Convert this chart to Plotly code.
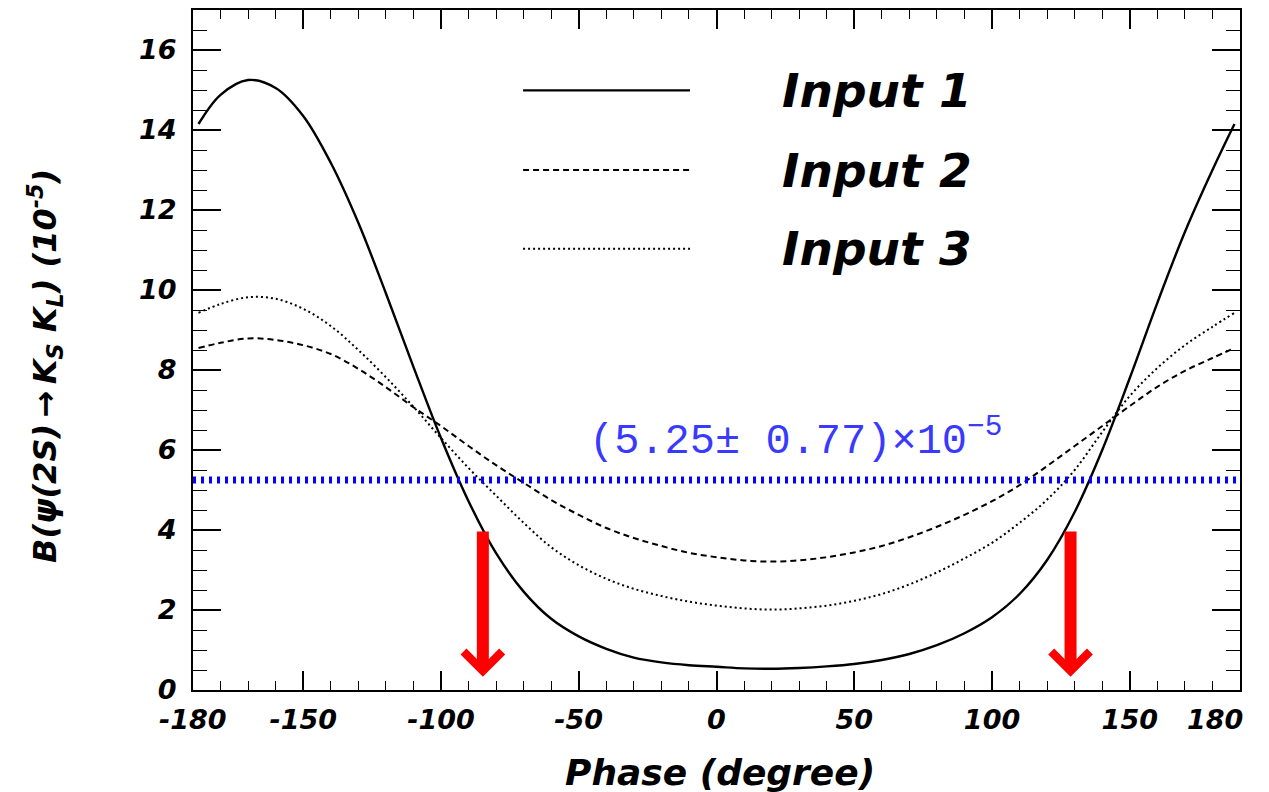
import plotly.graph_objects as go

# ---------------- data ----------------
phase = [-188, -180, -170, -160, -150, -140, -130, -120, -110, -100, -90, -80, -70,
         -60, -50, -40, -30, -20, -10, 0, 10, 20, 30, 40, 50, 60, 70, 80, 90, 100,
         110, 120, 130, 140, 150, 160, 170, 180, 188]

input1 = [14.15, 14.88, 15.25, 15.05, 14.35, 13.18, 11.68, 9.92, 8.08, 6.30, 4.72, 3.42, 2.46,
          1.78, 1.34, 1.03, 0.81, 0.69, 0.62, 0.58, 0.54, 0.53, 0.55, 0.59, 0.65, 0.75, 0.90,
          1.12, 1.42, 1.82, 2.40, 3.25, 4.45, 6.00, 7.80, 9.68, 11.45, 13.00, 14.15]

input2 = [8.55, 8.68, 8.79, 8.75, 8.62, 8.40, 8.03, 7.57, 7.07, 6.60, 6.10, 5.62, 5.18,
          4.75, 4.38, 4.05, 3.80, 3.60, 3.43, 3.32, 3.24, 3.21, 3.24, 3.32, 3.44, 3.60, 3.82,
          4.08, 4.38, 4.72, 5.12, 5.60, 6.10, 6.60, 7.10, 7.58, 7.98, 8.30, 8.55]

input3 = [9.43, 9.65, 9.82, 9.78, 9.53, 9.10, 8.50, 7.82, 7.08, 6.30, 5.55, 4.86, 4.18,
          3.57, 3.12, 2.78, 2.53, 2.35, 2.21, 2.11, 2.04, 2.01, 2.04, 2.11, 2.23, 2.40, 2.64,
          2.94, 3.29, 3.68, 4.18, 4.76, 5.50, 6.45, 7.35, 8.05, 8.62, 9.08, 9.43]

series_names = ["Input 1", "Input 2", "Input 3"]
series_dash = ["solid", "6px,4px", "2px,3px"]

measured_value = 5.25
measured_error = 0.77
measured_label = "(5.25\u00b1 0.77)\u00d710<sup>\u22125</sup>"

arrow_phase = [-84.8, 128.5]
arrow_top = 4.0
arrow_tip = 0.33

legend_line_x = [-70.2, -9.6]
legend_y = [14.99, 13.0, 11.03]
legend_text_x = 23

x_range = [-190, 190]
y_range = [0, 17]
x_tick_vals = [-150, -100, -50, 0, 50, 100, 150]
x_tick_text = ["-150", "-100", "-50", "0", "50", "100", "150"]
x_edge_vals = [-190, 181]
x_edge_text = ["-180", "180"]

x_title = "Phase (degree)"
y_title = "B(\u03c8(2S)\u2009\u2192\u2009K<sub>S</sub> K<sub>L</sub>) (10<sup>-5</sup>)"

# ---------------- figure ----------------
BI = dict(family="DejaVu Sans", weight="bold", style="italic", color="black")

fig = go.Figure()

for vals, dash in zip([input1, input2, input3], series_dash):
    fig.add_trace(go.Scatter(x=phase, y=vals, mode="lines", line_shape="spline",
                             line=dict(color="black", width=2.4 if dash == "solid" else 2, dash=dash),
                             hoverinfo="skip"))

# measured value line
fig.add_trace(go.Scatter(x=x_range, y=[measured_value, measured_value], mode="lines",
                         line=dict(color="#0000ff", width=7, dash="3px,5px"), hoverinfo="skip"))

# legend samples
for ly, dash, name in zip(legend_y, series_dash, series_names):
    fig.add_trace(go.Scatter(x=legend_line_x, y=[ly, ly], mode="lines",
                             line=dict(color="black", width=2.4 if dash == "solid" else 2, dash=dash),
                             hoverinfo="skip"))
    fig.add_annotation(x=legend_text_x, y=ly, xref="x", yref="y", text=name, showarrow=False,
                       xanchor="left", yanchor="middle", font=dict(size=47, **BI))

# measured value label
fig.add_annotation(x=28.5, y=measured_value + 1.05, xref="x", yref="y", text=measured_label,
                   showarrow=False, xanchor="center", yanchor="middle",
                   font=dict(family="Liberation Mono", size=42, color="#3a3aff", weight="normal"))

# red arrows
for ax_ in arrow_phase:
    fig.add_annotation(x=ax_, y=arrow_tip, ax=ax_, ay=arrow_top, xref="x", yref="y",
                       axref="x", ayref="y", text="", showarrow=True, arrowhead=4,
                       arrowsize=0.62, arrowwidth=12, arrowcolor="#ff0000", standoff=0)

# edge tick labels
for xv, xt in zip(x_edge_vals, x_edge_text):
    fig.add_annotation(x=xv, y=-0.044, xref="x", yref="paper", text=xt, showarrow=False,
                       xanchor="center", yanchor="middle", font=dict(size=27, **BI))

# axis titles
fig.add_annotation(x=0.503, y=-0.122, xref="paper", yref="paper", text=x_title, showarrow=False,
                   xanchor="center", yanchor="middle", font=dict(size=36, **BI))
fig.add_annotation(x=-0.1414, y=0.4765, xref="paper", yref="paper", text=y_title, showarrow=False,
                   textangle=-90, xanchor="center", yanchor="middle", font=dict(size=32, **BI))

fig.update_xaxes(range=x_range, tickmode="array", tickvals=x_tick_vals, ticktext=x_tick_text,
                 ticks="inside", ticklen=19, tickwidth=1.5, tickcolor="black",
                 minor=dict(ticks="inside", ticklen=9, dtick=10, tick0=0, tickwidth=1.2, tickcolor="black"),
                 showline=True, linewidth=2, linecolor="black", mirror="allticks",
                 showgrid=False, zeroline=False, tickfont=dict(size=27, **BI),
                 ticklabelstandoff=5)
fig.update_yaxes(range=y_range, tick0=0, dtick=2,
                 ticks="inside", ticklen=28, tickwidth=1.5, tickcolor="black",
                 minor=dict(ticks="inside", ticklen=14, dtick=0.5, tick0=0, tickwidth=1.2, tickcolor="black"),
                 showline=True, linewidth=2, linecolor="black", mirror="allticks",
                 showgrid=False, zeroline=False, tickfont=dict(size=27, **BI),
                 ticklabelstandoff=9)

# page body has an 8px margin: size the figure so the frame lands where the reference has it
fig.update_layout(width=1261, height=784, margin=dict(l=185, r=29, t=0, b=102),
                  plot_bgcolor="white", paper_bgcolor="white", showlegend=False)

fig.write_html("out.html")
